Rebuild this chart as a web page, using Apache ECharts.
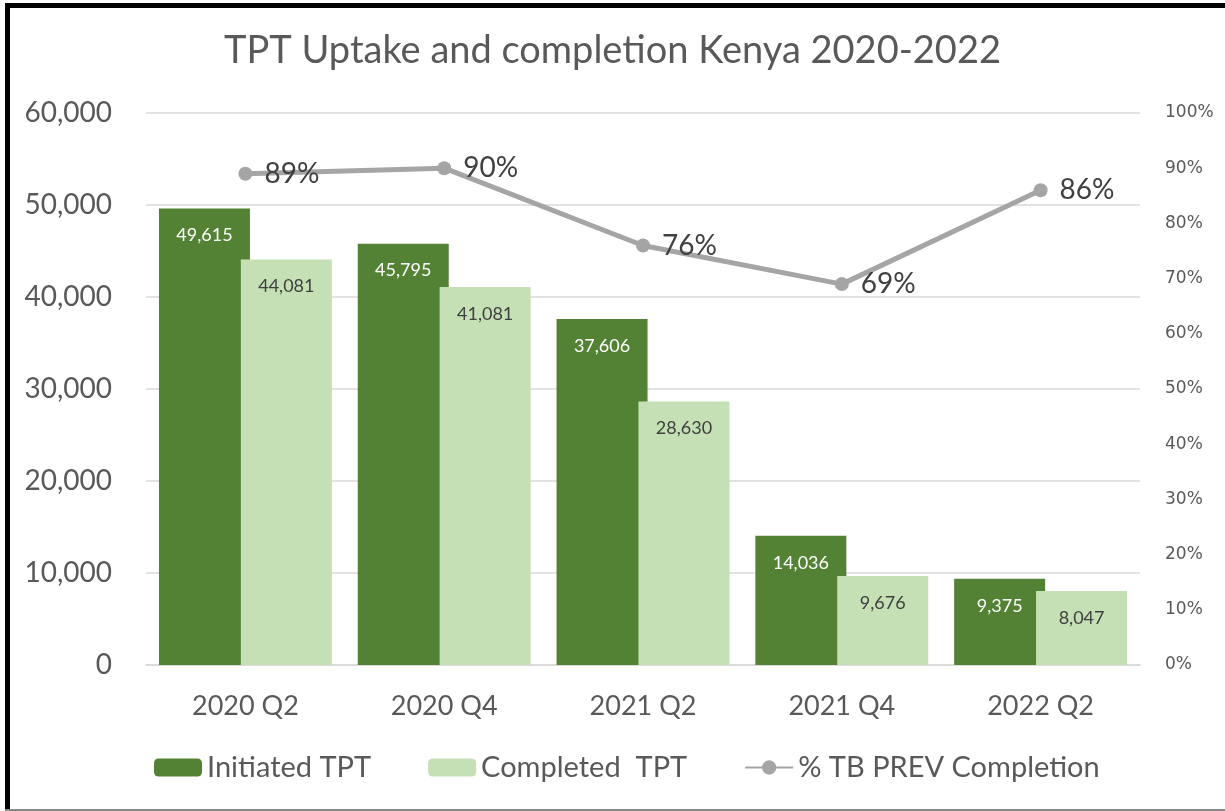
<!DOCTYPE html>
<html>
<head>
<meta charset="utf-8">
<script src="https://cdn.jsdelivr.net/npm/echarts@6/dist/echarts.min.js"></script>
<style>
    body { margin: 0; background: #fff; }
    #chart { width: 1225px; height: 811px; }
</style>
</head>
<body>
<div id="chart"></div>
<script>
var categories = ['2020 Q2', '2020 Q4', '2021 Q2', '2021 Q4', '2022 Q2'];
var initiated = [49615, 45795, 37606, 14036, 9375];
var completed = [44081, 41081, 28630, 9676, 8047];
var completionRate = [0.89, 0.90, 0.76, 0.69, 0.86];
var leftTicks = [0, 10000, 20000, 30000, 40000, 50000, 60000];

var textGrey = '#595959';
var fontMain = 'Lato, "Open Sans", sans-serif';

var chart = echarts.init(document.getElementById('chart'));

var option = {
    backgroundColor: '#fff',
    animation: false,
    title: {
        text: 'TPT Uptake and completion Kenya 2020-2022',
        left: 'center',
        top: 27,
        textStyle: {
            color: textGrey,
            fontFamily: fontMain,
            fontWeight: 'normal',
            fontSize: 38
        }
    },
    legend: {
        left: 149,
        top: 748,
        itemWidth: 48,
        itemHeight: 18,
        itemGap: 57,
        textStyle: {
            color: textGrey,
            fontFamily: fontMain,
            fontSize: 29
        },
        data: ['Initiated TPT', 'Completed  TPT', '% TB PREV Completion']
    },
    grid: {
        left: 146,
        right: 85,
        top: 113,
        bottom: 146
    },
    xAxis: {
        type: 'category',
        data: categories,
        axisLine: { lineStyle: { color: '#D9D9D9', width: 1.5 } },
        axisTick: { show: false },
        axisLabel: {
            color: textGrey,
            fontFamily: fontMain,
            fontSize: 27,
            margin: 28
        }
    },
    yAxis: [{
        type: 'value',
        min: leftTicks[0],
        max: leftTicks[leftTicks.length - 1],
        interval: 10000,
        axisLine: { show: false },
        axisTick: { show: false },
        splitLine: { lineStyle: { color: '#D9D9D9', width: 1.5 } },
        axisLabel: {
            color: textGrey,
            fontFamily: fontMain,
            fontSize: 28,
            margin: 34,
            formatter: function (val) {
                return val.toLocaleString('en-US');
            }
        }
    }, {
        type: 'value',
        min: 0,
        max: 1,
        interval: 0.1,
        axisLine: { show: false },
        axisTick: { show: false },
        splitLine: { show: false },
        axisLabel: {
            color: textGrey,
            fontFamily: '"DejaVu Sans", sans-serif',
            fontSize: 17,
            margin: 25,
            formatter: function (val) {
                return Math.round(val * 100) + '%';
            }
        }
    }],
    series: [{
        name: 'Initiated TPT',
        type: 'bar',
        data: initiated,
        barWidth: 91,
        barGap: '-10%',
        itemStyle: { color: '#548235' },
        label: {
            show: true,
            position: 'insideTop',
            distance: 18,
            color: '#fff',
            fontFamily: fontMain,
            fontSize: 18,
            formatter: function (p) { return p.value.toLocaleString('en-US'); }
        }
    }, {
        name: 'Completed  TPT',
        type: 'bar',
        data: completed,
        barWidth: 91,
        itemStyle: { color: '#C5E0B4' },
        label: {
            show: true,
            position: 'insideTop',
            distance: 18,
            color: '#404040',
            fontFamily: fontMain,
            fontSize: 18,
            formatter: function (p) { return p.value.toLocaleString('en-US'); }
        }
    }, {
        name: '% TB PREV Completion',
        type: 'line',
        yAxisIndex: 1,
        data: completionRate,
        symbol: 'circle',
        symbolSize: 14,
        lineStyle: { color: '#A5A5A5', width: 5 },
        itemStyle: { color: '#A5A5A5' },
        label: {
            show: true,
            position: 'right',
            distance: 12,
            color: '#404040',
            fontFamily: fontMain,
            fontSize: 28,
            formatter: function (p) { return Math.round(p.value * 100) + '%'; }
        },
        z: 5
    }],
    graphic: [
        { type: 'rect', shape: { x: 5, y: 3, width: 1220, height: 5 }, style: { fill: '#000' } },
        { type: 'rect', shape: { x: 5, y: 3, width: 5, height: 806 }, style: { fill: '#000' } },
        { type: 'rect', shape: { x: 5, y: 809, width: 1220, height: 2 }, style: { fill: '#888' } }
    ]
};

chart.setOption(option);
</script>
</body>
</html>
